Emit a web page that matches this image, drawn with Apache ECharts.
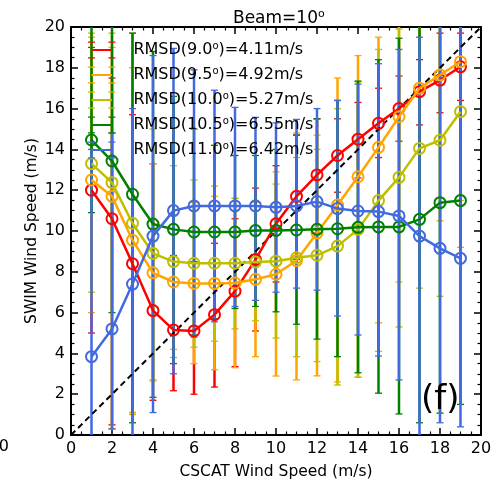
<!DOCTYPE html>
<html>
<head>
<meta charset="utf-8">
<script src="https://cdn.jsdelivr.net/npm/echarts@6/dist/echarts.min.js"></script>
<style>html,body{margin:0;padding:0;background:#fff;}#c{width:492px;height:479px;}</style>
</head>
<body>
<div id="c"></div>
<script>
// ---- data ----
var xs = [1,2,3,4,5,6,7,8,9,10,11,12,13,14,15,16,17,18,19];
var names = ['RMSD(9.0°)=4.11m/s','RMSD(9.5°)=4.92m/s','RMSD(10.0°)=5.27m/s','RMSD(10.5°)=6.55m/s','RMSD(11.0°)=6.42m/s'];
var colors = ['#ff0000','#ffa500','#bfbf00','#008000','#4169e1'];

var red_mean    = [12.0,10.6,8.4,6.1,5.15,5.1,5.9,7.05,8.6,10.35,11.7,12.75,13.7,14.5,15.28,16.0,16.83,17.4,18.05];
var orange_mean = [12.5,11.7,9.55,7.95,7.5,7.43,7.43,7.45,7.63,7.88,8.55,9.9,11.27,12.66,14.1,15.6,17.0,17.65,18.3];
var yellow_mean = [13.3,12.37,10.38,8.9,8.5,8.42,8.42,8.42,8.48,8.52,8.69,8.81,9.26,10.08,11.49,12.63,14.05,14.45,15.85];
var green_mean  = [14.46,13.43,11.8,10.34,10.08,9.95,9.95,9.95,10.02,10.03,10.05,10.08,10.11,10.18,10.2,10.2,10.57,11.39,11.49];
var blue_mean   = [3.84,5.2,7.4,9.75,11.0,11.23,11.23,11.23,11.23,11.16,11.23,11.44,11.1,10.98,10.95,10.74,9.75,9.15,8.66];

var red_lo    = [5.0,0.5,1.1,1.7,2.17,2.0,2.35,3.35,5.1,7.5,8.6,9.9,11.9,12.6,13.6,14.4,15.2,15.8,16.4];
var red_hi    = [19.0,17.5,15.7,13.3,8.8,8.5,9.4,10.6,12.1,13.2,14.7,15.5,15.5,16.3,17.0,17.6,18.4,19.7,19.7];
var orange_lo = [6.0,0.3,1.1,2.65,4.2,3.5,3.2,3.3,3.84,2.89,2.7,2.9,2.6,2.83,5.5,7.5,9.5,10.5,11.5];
var orange_hi = [19.5,19.0,18.0,13.3,10.8,11.4,11.7,11.6,11.4,12.9,14.8,14.7,17.5,18.6,19.5,21,21,21,21];
var yellow_lo = [7.0,0.3,1.0,2.7,3.8,4.3,4.6,5.2,5.6,4.75,3.84,3.6,2.45,2.83,4.1,5.3,7.2,6.8,9.2];
var yellow_hi = [19.7,19.7,19.7,15.0,13.2,12.5,12.2,11.6,11.5,12.3,13.6,14.0,16.0,17.3,18.9,19.9,21,21,21];
var green_lo  = [10.9,6.0,0.6,1.85,3.5,4.9,5.7,6.2,6.3,6.04,5.43,4.7,3.84,3.05,2.05,1.03,0.6,1.07,1.5];
var green_hi  = [21,21,19.7,18.8,16.6,15.0,14.2,13.7,13.7,14.0,14.7,15.5,16.4,17.35,18.4,19.45,21,21,21];
var blue_lo   = [-1,0.3,-1,1.1,3.0,4.8,5.55,6.3,6.6,7.0,7.2,7.1,5.83,4.9,3.87,2.7,-1,0.6,0.4];
var blue_hi   = [14.0,14.8,16.0,18.6,18.95,17.9,16.9,16.06,15.57,15.3,15.47,16.0,16.4,17.2,18.2,18.9,19.5,21,21];

var xTicks = [0,2,4,6,8,10,12,14,16,18,20];
var yTicks = [0,2,4,6,8,10,12,14,16,18,20];
var oneToOne = [[0,0],[20,20]];

var means = [red_mean, orange_mean, yellow_mean, green_mean, blue_mean];
var los = [red_lo, orange_lo, yellow_lo, green_lo, blue_lo];
var his = [red_hi, orange_hi, yellow_hi, green_hi, blue_hi];

var FONT = 'DejaVu Sans';
var chart = echarts.init(document.getElementById('c'), null, {renderer: 'canvas'});

function renderBar(params, api) {
  var x = api.value(0), lo = api.value(1), hi = api.value(2);
  var p1 = api.coord([x, lo]), p2 = api.coord([x, hi]);
  var c = api.visual('color');
  var cw = 3.5;
  return {type: 'group', children: [
    {type: 'line', shape: {x1: p1[0], y1: p1[1], x2: p2[0], y2: p2[1]}, style: {stroke: c, lineWidth: 2.5}},
    {type: 'line', shape: {x1: p1[0]-cw, y1: p1[1], x2: p1[0]+cw, y2: p1[1]}, style: {stroke: c, lineWidth: 1.3}},
    {type: 'line', shape: {x1: p2[0]-cw, y1: p2[1], x2: p2[0]+cw, y2: p2[1]}, style: {stroke: c, lineWidth: 1.3}}
  ]};
}

var iconPath = 'path://M0,0L7,0L7,1.3L0,1.3Z M20.4,0L27.4,0L27.4,1.3L20.4,1.3Z M0,15.7L7,15.7L7,17L0,17Z M20.4,15.7L27.4,15.7L27.4,17L20.4,17Z M3.5,7.5L23.9,7.5L23.9,9.5L3.5,9.5Z';

var series = [];
for (var s = 0; s < 5; s++) {
  var bars = xs.map(function (x, i) { return [x, los[s][i], his[s][i]]; });
  series.push({
    type: 'custom', name: names[s], renderItem: renderBar, data: bars,
    encode: {x: 0, y: [1, 2]}, clip: true, z: 1 + s * 0.01, silent: true,
    itemStyle: {color: colors[s]}
  });
}
series.push({
  type: 'line', data: oneToOne, showSymbol: false, symbol: 'none', silent: true, z: 2,
  lineStyle: {color: '#000', width: 2, type: [6, 4]}
});
for (var s2 = 0; s2 < 5; s2++) {
  series.push({
    type: 'line', name: names[s2], z: 3 + s2 * 0.01, silent: true,
    data: xs.map(function (x, i) { return [x, means[s2][i]]; }),
    symbol: 'circle', symbolSize: 11,
    itemStyle: {color: 'rgba(0,0,0,0)', borderColor: colors[s2], borderWidth: 2},
    lineStyle: {color: colors[s2], width: 2.5}
  });
}

function axisCommon(extra) {
  var a = {
    type: 'value', min: 0, max: 20, interval: 2,
    axisLine: {show: true, onZero: false, lineStyle: {color: '#000', width: 2}},
    axisTick: {show: true, inside: true, length: 7, lineStyle: {color: '#000', width: 1.5}},
    minorTick: {show: true, splitNumber: 4, length: 3.5, lineStyle: {color: '#000', width: 1.2}},
    splitLine: {show: false},
    axisLabel: {show: true, color: '#000', fontFamily: FONT, fontSize: 16, margin: 6}
  };
  for (var k in extra) a[k] = extra[k];
  return a;
}

var option = {
  animation: false,
  backgroundColor: '#fff',
  title: {
    text: '{a|Beam=10}{b|o}', left: 228, top: 4,
    textStyle: {fontWeight: 'normal', rich: {
      a: {fontFamily: FONT, fontSize: 17, fontWeight: 'normal', color: '#000', lineHeight: 20},
      b: {fontFamily: FONT, fontSize: 11, fontWeight: 'normal', color: '#000', lineHeight: 11, verticalAlign: 'top'}
    }}
  },
  grid: {left: 71, right: 11, top: 27, bottom: 44, containLabel: false, outerBoundsMode: 'none'},
  xAxis: [
    axisCommon({position: 'bottom', name: 'CSCAT Wind Speed (m/s)', nameLocation: 'middle', nameGap: 29,
      nameMoveOverlap: false,
      nameTextStyle: {fontFamily: FONT, fontSize: 15.5, color: '#000'}}),
    axisCommon({position: 'top', axisLabel: {show: false}})
  ],
  yAxis: [
    axisCommon({position: 'left', name: 'SWIM Wind Speed (m/s)', nameLocation: 'middle', nameGap: 31,
      nameMoveOverlap: false,
      nameTextStyle: {fontFamily: FONT, fontSize: 15.5, color: '#000'}}),
    axisCommon({position: 'right', axisLabel: {show: false}})
  ],
  legend: {
    orient: 'vertical', left: 88, top: 41, padding: 0, itemGap: 7.5,
    itemWidth: 27.4, itemHeight: 17,
    data: names.map(function (n, i) { return {name: n, icon: iconPath, itemStyle: {color: colors[i], borderWidth: 0}}; }),
    formatter: function (name) {
      var i = name.indexOf('°');
      return '{t|' + name.slice(0, i) + '}{s|o}{t|' + name.slice(i + 1) + '}';
    },
    textStyle: {
      padding: [0, 0, 0, 13],
      rich: {
        t: {fontFamily: FONT, fontSize: 16, color: '#000', lineHeight: 18},
        s: {fontFamily: FONT, fontSize: 10, color: '#000', lineHeight: 9, verticalAlign: 'top'}
      }
    }
  },
  graphic: [
    {type: 'text', left: 421, top: 383, z: 100, style: {text: '(f)', fontFamily: FONT, fontSize: 34, fill: '#000'}},
    {type: 'text', x: 9, y: 447, z: 100, style: {text: '20', fontFamily: FONT, fontSize: 16, fill: '#000', align: 'right', verticalAlign: 'middle'}}
  ],
  series: series
};
chart.setOption(option);
</script>
</body>
</html>
